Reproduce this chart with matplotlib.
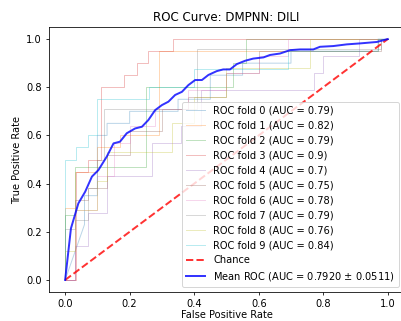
import matplotlib
matplotlib.use("Agg")
import matplotlib.pyplot as plt

# per-fold ROC curves (fpr, tpr)
fold_fpr = [
    [0, 0.06, 0.06, 0.1, 0.1, 0.13, 0.13, 0.2, 0.2, 0.35, 0.35, 0.45, 0.45, 0.55, 0.55, 0.7, 0.7, 0.97, 0.97, 1],
    [0, 0, 0.03, 0.03, 0.1, 0.1, 0.17, 0.17, 0.29, 0.29, 0.97, 0.97, 1],
    [0, 0, 0.03, 0.03, 0.25, 0.25, 0.52, 0.52, 0.56, 0.56, 1],
    [0, 0.033, 0.033, 0.07, 0.07, 0.11, 0.11, 0.184, 0.184, 0.222, 0.222, 0.258, 0.258, 0.334, 0.334, 1],
    [0, 0.03, 0.03, 0.07, 0.07, 0.13, 0.13, 0.27, 0.27, 0.36, 0.36, 0.42, 0.42, 0.77, 0.77, 0.8, 0.8, 0.91, 0.91, 1],
    [0, 0.03, 0.03, 0.07, 0.07, 0.13, 0.13, 0.2, 0.2, 0.3, 0.3, 0.38, 0.38, 0.5, 0.5, 0.6, 0.6, 0.98, 0.98, 1],
    [0, 0.03, 0.03, 0.1, 0.1, 0.15, 0.15, 0.2, 0.2, 0.28, 0.28, 0.38, 0.38, 0.5, 0.5, 0.6, 0.6, 0.69, 0.69, 1],
    [0, 0, 0.03, 0.03, 0.07, 0.07, 0.1, 0.1, 0.12, 0.12, 0.41, 0.41, 0.98, 0.98, 1],
    [0, 0, 0.03, 0.03, 0.1, 0.1, 0.13, 0.13, 0.33, 0.33, 0.4, 0.4, 0.5, 0.5, 0.76, 0.76, 1],
    [0, 0, 0.035, 0.035, 0.07, 0.07, 0.1, 0.1, 0.26, 0.26, 0.4, 0.4, 0.69, 0.69, 0.97, 0.97, 1],
]
fold_tpr = [
    [0, 0.23, 0.35, 0.35, 0.6, 0.6, 0.65, 0.65, 0.7, 0.7, 0.75, 0.75, 0.85, 0.85, 0.9, 0.9, 0.95, 0.95, 1, 1],
    [0, 0.3, 0.3, 0.45, 0.45, 0.55, 0.55, 0.6, 0.6, 0.95, 0.95, 1, 1],
    [0, 0.27, 0.27, 0.47, 0.47, 0.8, 0.8, 0.9, 0.9, 1, 1],
    [0, 0, 0.45, 0.45, 0.5, 0.5, 0.8, 0.8, 0.85, 0.85, 0.9, 0.9, 0.95, 0.95, 1, 1],
    [0, 0, 0.14, 0.14, 0.28, 0.28, 0.43, 0.43, 0.57, 0.57, 0.64, 0.64, 0.79, 0.79, 0.86, 0.86, 0.93, 0.93, 1, 1],
    [0, 0, 0.33, 0.33, 0.38, 0.38, 0.52, 0.52, 0.62, 0.62, 0.71, 0.71, 0.76, 0.76, 0.86, 0.86, 0.95, 0.95, 1, 1],
    [0, 0, 0.29, 0.29, 0.43, 0.43, 0.57, 0.57, 0.64, 0.64, 0.71, 0.71, 0.79, 0.79, 0.86, 0.86, 0.93, 0.93, 1, 1],
    [0, 0.21, 0.21, 0.25, 0.25, 0.38, 0.38, 0.5, 0.5, 0.71, 0.71, 0.96, 0.96, 1, 1],
    [0, 0.12, 0.12, 0.29, 0.29, 0.41, 0.41, 0.53, 0.53, 0.65, 0.65, 0.76, 0.76, 0.88, 0.88, 1, 1],
    [0, 0.5, 0.5, 0.55, 0.55, 0.6, 0.6, 0.75, 0.75, 0.8, 0.8, 0.875, 0.875, 0.95, 0.95, 1, 1],
]
fold_auc = ["0.79", "0.82", "0.79", "0.9", "0.7", "0.75", "0.78", "0.79", "0.76", "0.84"]

# mean ROC
mean_fpr = [0, 0.018, 0.041, 0.062, 0.083, 0.103, 0.129, 0.150, 0.170, 0.191, 0.217, 0.238,
            0.258, 0.279, 0.300, 0.320, 0.341, 0.362, 0.382, 0.403, 0.424, 0.444, 0.470,
            0.490, 0.511, 0.532, 0.558, 0.583, 0.615, 0.635, 0.666, 0.697, 0.728, 0.769,
            0.790, 0.831, 0.873, 0.914, 0.966, 1.0]
mean_tpr = [0, 0.214, 0.318, 0.366, 0.429, 0.456, 0.512, 0.567, 0.574, 0.609, 0.629, 0.636,
            0.664, 0.705, 0.726, 0.740, 0.768, 0.781, 0.809, 0.830, 0.830, 0.851, 0.867,
            0.874, 0.874, 0.896, 0.910, 0.919, 0.924, 0.934, 0.940, 0.954, 0.957, 0.957,
            0.968, 0.971, 0.978, 0.982, 0.988, 1.0]
mean_auc = 0.7920
std_auc = 0.0511

# the picture is a scaled-down matplotlib default, so render at a low dpi
DPI = 71
fig = plt.figure(figsize=(401 / DPI, 321 / DPI), dpi=DPI)
ax = fig.add_axes([0.1222, 0.0903, 0.885, 0.8255])

for i in range(len(fold_fpr)):
    ax.plot(fold_fpr[i], fold_tpr[i], lw=1, alpha=0.3,
            label="ROC fold %d (AUC = %s)" % (i, fold_auc[i]))

ax.plot([0, 1], [0, 1], linestyle="--", lw=2, color="r", label="Chance", alpha=0.8)
ax.plot(mean_fpr, mean_tpr, color="b", lw=2, alpha=0.8,
        label=r"Mean ROC (AUC = %0.4f $\pm$ %0.4f)" % (mean_auc, std_auc))

ax.set_xlim(-0.05, 1.05)
ax.set_ylim(-0.05, 1.05)
ax.set_xlabel("False Positive Rate", labelpad=1)
ax.set_ylabel("True Positive Rate")
ax.set_title("ROC Curve: DMPNN: DILI")
ax.legend(loc="lower right")

fig.savefig("out.png", dpi=DPI)
